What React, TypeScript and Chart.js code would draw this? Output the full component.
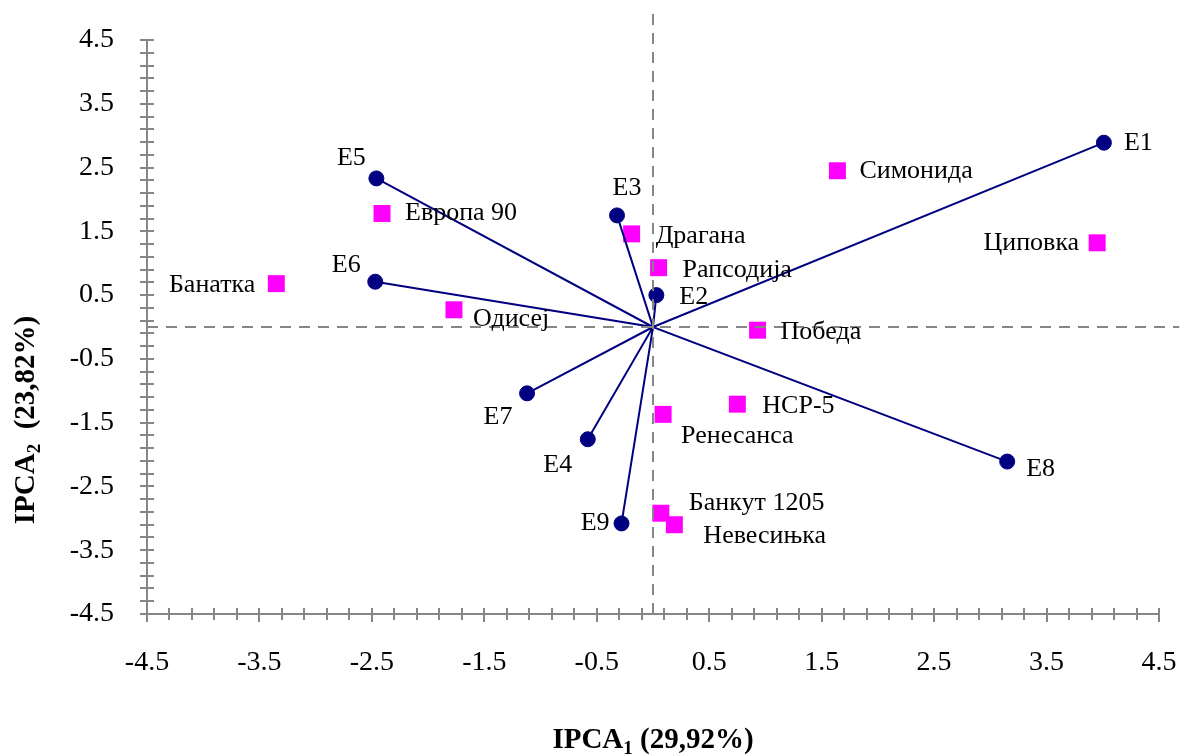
import React, { useEffect, useRef } from "react";
import { Chart, registerables } from "chart.js";

Chart.register(...registerables);

// Environments (vectors)
const envNames = ["E1", "E2", "E3", "E4", "E5", "E6", "E7", "E8", "E9"];
const envX = [4.01, 0.03, -0.32, -0.58, -2.46, -2.47, -1.12, 3.15, -0.28];
const envY = [2.89, 0.5, 1.75, -1.76, 2.33, 0.71, -1.04, -2.11, -3.08];

// Genotypes
const genNames = [
  "Симонида",
  "Циповка",
  "Европа 90",
  "Драгана",
  "Рапсодија",
  "Банатка",
  "Одисеј",
  "Победа",
  "НСР-5",
  "Ренесанса",
  "Банкут 1205",
  "Невесињка",
];
const genX = [1.64, 3.95, -2.41, -0.19, 0.05, -3.35, -1.77, 0.93, 0.75, 0.09, 0.07, 0.19];
const genY = [2.45, 1.32, 1.78, 1.46, 0.93, 0.68, 0.27, -0.05, -1.21, -1.37, -2.92, -3.1];

const axisMin = -4.5;
const axisMax = 4.5;
const xTitle = { main: "IPCA", sub: "1", rest: " (29,92%)" };
const yTitle = { main: "IPCA", sub: "2", rest: "  (23,82%)" };

// label placement (style): [dx, dy, align]
const envLabelPos: [number, number, CanvasTextAlign][] = [
  [20, 0, "left"],
  [23, 2, "left"],
  [10, -27, "center"],
  [-30, 26, "center"],
  [-25, -20, "center"],
  [-29, -17, "center"],
  [-29, 24, "center"],
  [19, 8, "left"],
  [-12, 0, "right"],
];
const genLabelPos: [number, number, CanvasTextAlign][] = [
  [22, 0, "left"],
  [-18, 0, "right"],
  [23, 0, "left"],
  [24, 2, "left"],
  [24, 2, "left"],
  [-21, 2, "right"],
  [19, 9, "left"],
  [23, 2, "left"],
  [25, 2, "left"],
  [18, 22, "left"],
  [28, -10, "left"],
  [29, 11, "left"],
];

const FONT = "'Liberation Serif', 'Times New Roman', serif";
const AXIS_COLOR = "#868686";

const labelsPlugin = {
  id: "pointLabels",
  afterDatasetsDraw(chart: any) {
    const ctx = chart.ctx;
    ctx.save();
    ctx.font = `26px ${FONT}`;
    ctx.fillStyle = "#000";
    ctx.textBaseline = "middle";
    const envMeta = chart.getDatasetMeta(3);
    envMeta.data.forEach((el: any, i: number) => {
      const [dx, dy, al] = envLabelPos[i];
      ctx.textAlign = al;
      ctx.fillText(envNames[i], el.x + dx, el.y + dy);
    });
    const genMeta = chart.getDatasetMeta(4);
    genMeta.data.forEach((el: any, i: number) => {
      const [dx, dy, al] = genLabelPos[i];
      ctx.textAlign = al;
      ctx.fillText(genNames[i], el.x + dx, el.y + dy);
    });
    ctx.restore();
  },
};

function drawSubTitle(ctx: any, t: { main: string; sub: string; rest: string }, size: number) {
  const big = `bold ${size}px ${FONT}`;
  const small = `bold ${Math.round(size * 0.65)}px ${FONT}`;
  ctx.font = big;
  const w1 = ctx.measureText(t.main).width;
  const w3 = ctx.measureText(t.rest).width;
  ctx.font = small;
  const w2 = ctx.measureText(t.sub).width;
  const total = w1 + w2 + w3;
  let x = -total / 2;
  ctx.textAlign = "left";
  ctx.textBaseline = "alphabetic";
  ctx.font = big;
  ctx.fillText(t.main, x, 0);
  x += w1;
  ctx.font = small;
  ctx.fillText(t.sub, x, size * 0.22);
  x += w2;
  ctx.font = big;
  ctx.fillText(t.rest, x, 0);
}

const axesPlugin = {
  id: "crossTicks",
  afterDraw(chart: any) {
    const ctx = chart.ctx;
    const xs = chart.scales.x;
    const ys = chart.scales.y;
    const area = chart.chartArea;
    ctx.save();
    ctx.strokeStyle = AXIS_COLOR;
    ctx.lineWidth = 2;
    for (let k = 0; k <= 45; k++) {
      const v = axisMin + k * 0.2;
      const major = k % 5 === 0;
      const px = Math.round(xs.getPixelForValue(v));
      ctx.beginPath();
      ctx.moveTo(px, area.bottom - 6);
      ctx.lineTo(px, area.bottom + (major ? 8 : 6));
      ctx.stroke();
      const py = Math.round(ys.getPixelForValue(v));
      ctx.beginPath();
      ctx.moveTo(area.left - 7, py);
      ctx.lineTo(area.left + 7, py);
      ctx.stroke();
    }
    // axis titles
    ctx.fillStyle = "#000";
    ctx.save();
    ctx.translate((area.left + area.right) / 2, 748);
    drawSubTitle(ctx, xTitle, 29);
    ctx.restore();
    ctx.save();
    ctx.translate(34, 420);
    ctx.rotate(-Math.PI / 2);
    drawSubTitle(ctx, yTitle, 29);
    ctx.restore();
    ctx.restore();
  },
};

export default function App() {
  const ref = useRef<HTMLCanvasElement | null>(null);
  useEffect(() => {
    if (!ref.current) return;
    const vectorData: { x: number; y: number }[] = [];
    envX.forEach((x, i) => {
      vectorData.push({ x: 0, y: 0 });
      vectorData.push({ x, y: envY[i] });
    });
    const chart = new Chart(ref.current, {
      type: "scatter",
      data: {
        datasets: [
          {
            type: "line",
            label: "x0",
            data: [
              { x: 0, y: axisMin },
              { x: 0, y: 4.92 },
            ],
            borderColor: AXIS_COLOR,
            borderWidth: 2,
            borderDash: [11, 8],
            pointRadius: 0,
            clip: false as any,
          },
          {
            type: "line",
            label: "y0",
            data: [
              { x: axisMin, y: 0 },
              { x: 4.68, y: 0 },
            ],
            borderColor: AXIS_COLOR,
            borderWidth: 2,
            borderDash: [11, 8],
            pointRadius: 0,
            clip: false as any,
          },
          {
            type: "line",
            label: "vectors",
            data: vectorData,
            borderColor: "#000080",
            borderWidth: 2,
            pointRadius: 0,
            fill: false,
          },
          {
            label: "Environments",
            data: envX.map((x, i) => ({ x, y: envY[i] })),
            backgroundColor: "#000080",
            borderColor: "#000080",
            pointRadius: 7.5,
            pointStyle: "circle",
          },
          {
            label: "Genotypes",
            data: genX.map((x, i) => ({ x, y: genY[i] })),
            backgroundColor: "#FF00FF",
            borderColor: "#FF00FF",
            borderWidth: 0,
            pointRadius: 12,
            pointStyle: "rect",
          },
        ],
      },
      options: {
        responsive: false,
        animation: false,
        layout: { padding: { top: 40, right: 21, left: 0, bottom: 0 } },
        plugins: { legend: { display: false }, tooltip: { enabled: false } },
        scales: {
          x: {
            type: "linear",
            min: axisMin,
            max: axisMax,
            afterFit: (s: any) => {
              s.height = 142;
              s.paddingLeft = 0;
              s.paddingRight = 0;
            },
            ticks: {
              stepSize: 1,
              callback: (v: any) => Number(v).toFixed(1),
              font: { family: FONT, size: 28 },
              color: "#000",
              padding: 24,
              maxRotation: 0,
              autoSkip: false,
            },
            grid: { display: false },
            border: { display: true, color: AXIS_COLOR, width: 2 },
          },
          y: {
            type: "linear",
            min: axisMin,
            max: axisMax,
            afterFit: (s: any) => {
              s.width = 147;
              s.paddingTop = 0;
              s.paddingBottom = 0;
            },
            ticks: {
              stepSize: 1,
              callback: (v: any) => Number(v).toFixed(1),
              font: { family: FONT, size: 28 },
              color: "#000",
              padding: 25,
              autoSkip: false,
            },
            grid: { display: false },
            border: { display: true, color: AXIS_COLOR, width: 2 },
          },
        },
      },
      plugins: [axesPlugin, labelsPlugin],
    });
    return () => chart.destroy();
  }, []);
  return (
    <div style={{ position: "fixed", left: 0, top: 0, width: 1180, height: 756, background: "#fff" }}>
      <canvas ref={ref} width={1180} height={756} style={{ display: "block" }} />
    </div>
  );
}
